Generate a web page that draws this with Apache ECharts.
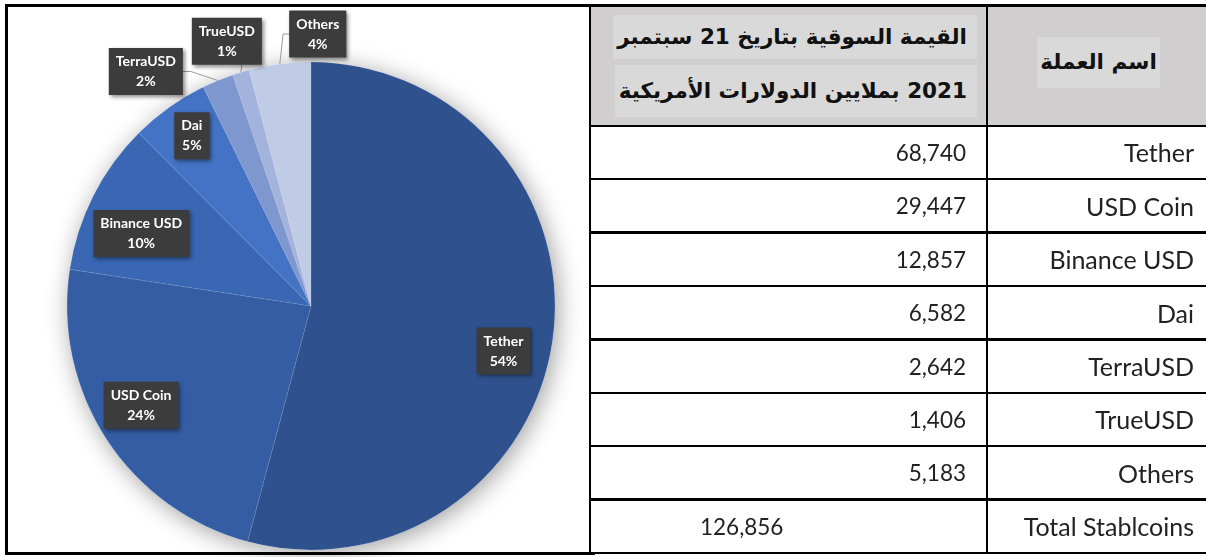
<!DOCTYPE html>
<html>
<head>
<meta charset="utf-8">
<script src="https://cdn.jsdelivr.net/npm/echarts@6/dist/echarts.min.js"></script>
<style>
  html, body { margin:0; padding:0; background:#fff; width:1206px; height:557px; overflow:hidden; }
  #frame { position:absolute; left:5px; top:4px; width:590px; height:551px; box-sizing:border-box;
           border:3px solid #000; border-right:none; }
  #chart { position:absolute; left:0; top:0; width:590px; height:557px; }
  #tbl { position:absolute; left:0; top:0; width:1206px; height:557px; }
  .cell { position:absolute; display:flex; align-items:center; box-sizing:border-box; white-space:nowrap;
          color:#222; font-family:Lato, "Open Sans", sans-serif; font-size:25px; }
  .num { font-size:22.5px; }
  .hline { position:absolute; height:2.6px; background:#000; }
  .vline { position:absolute; width:2.6px; background:#000; }
  .hd { background:#d0cece; font-family:"DejaVu Sans", sans-serif; font-weight:bold; color:#111; }
  .band { position:absolute; background:#d9d9d9; font-size:21.5px; display:flex; align-items:center;
          box-sizing:border-box; white-space:nowrap; }
</style>
</head>
<body>
<div id="frame"></div>
<div id="chart"></div>
<div id="tbl"></div>
<script>
// ---- data ----
const names  = ['Tether', 'USD Coin', 'Binance USD', 'Dai', 'TerraUSD', 'TrueUSD', 'Others'];
const values = [68740, 29447, 12857, 6582, 2642, 1406, 5183];
const totalName  = 'Total Stablcoins';
const totalValue = 126856;
const headerValueLines = ['القيمة السوقية بتاريخ 21 سبتمبر', '2021 بملايين الدولارات الأمريكية'];
const headerName = 'اسم العملة';

// ---- styling ----
const palette = ['#2f528f', '#345da4', '#3967b4', '#4472c4', '#7f97cf', '#a3b3dc', '#c0cbe6'];
const insideLabelCount = 4;
const insideLabelNudge = { 'Tether': [-4, 19], 'USD Coin': [-4, -9], 'Binance USD': [7, 17], 'Dai': [-4, -9] };
const smallLabelPlacement = {
  'TerraUSD': { dx: -72, dy: -9,  attach: 'right' },
  'TrueUSD':  { dx: -14, dy: -31, attach: 'bottom' },
  'Others':   { dx: 38,  dy: -30, attach: 'left' }
};
const boxStyle = {
  color: '#ffffff', fontFamily: 'Lato', fontWeight: 'bold', fontSize: 14, lineHeight: 20,
  backgroundColor: '#3c3c3c', padding: [4, 7, 3, 7],
  shadowBlur: 4, shadowColor: 'rgba(0,0,0,0.45)', shadowOffsetX: 2, shadowOffsetY: 2
};

const center = [311, 306];
const R = 244;

const pieData = names.map((n, i) => ({ name: n, value: values[i] }));

const chart = echarts.init(document.getElementById('chart'), null, { renderer: 'canvas' });
chart.setOption({
  animation: false,
  series: [
    { // soft shadow under the pie
      type: 'pie', silent: true, center: center, radius: R, startAngle: 90, z: 1,
      data: pieData, label: { show: false }, labelLine: { show: false },
      itemStyle: { color: '#ffffff', shadowBlur: 24, shadowColor: 'rgba(0,0,0,0.38)', shadowOffsetX: 3, shadowOffsetY: 4 },
      emphasis: { disabled: true }
    },
    { // main pie
      type: 'pie', silent: true, center: center, radius: R, startAngle: 90, z: 2,
      percentPrecision: 0,
      data: pieData.map((d, i) => ({
        name: d.name, value: d.value,
        itemStyle: { color: palette[i] },
        label: { show: i >= insideLabelCount },
        labelLine: { show: i >= insideLabelCount }
      })),
      itemStyle: { borderColor: 'rgba(255,255,255,0.14)', borderWidth: 0.6 },
      label: Object.assign({ position: 'outside', formatter: '{b}\n{d}%' }, boxStyle),
      labelLine: { length: 8, length2: 0, lineStyle: { color: '#9a9a9a', width: 1 } },
      labelLayout: function (p) {
        const cfg = smallLabelPlacement[names[p.dataIndex]];
        if (!cfg || !p.labelLinePoints) return {};
        const e = p.labelLinePoints[0];
        const w = p.labelRect.width, h = p.labelRect.height;
        const cx = e[0] + cfg.dx, cy = e[1] + cfg.dy;
        let pts;
        if (cfg.attach === 'right') {
          pts = [[e[0], e[1]], [cx + w / 2 + 8, cy], [cx + w / 2, cy]];
        } else if (cfg.attach === 'left') {
          pts = [[e[0], e[1]], [cx - w / 2 - 6, cy], [cx - w / 2, cy]];
        } else {
          pts = [[e[0], e[1]], [e[0] + 1, cy + h / 2], [e[0] + 1, cy + h / 2]];
        }
        return { x: cx, y: cy, align: 'center', verticalAlign: 'middle', labelLinePoints: pts };
      },
      emphasis: { disabled: true }
    },
    { // transparent ring that carries the inner labels
      type: 'pie', silent: true, center: center, radius: [R * 0.6, R], startAngle: 90, z: 3,
      percentPrecision: 0,
      data: pieData.map((d, i) => ({
        name: d.name, value: d.value,
        label: { show: i < insideLabelCount, offset: insideLabelNudge[d.name] || [0, 0] }
      })),
      itemStyle: { color: 'rgba(0,0,0,0)' },
      label: Object.assign({ position: 'inside', formatter: '{b}\n{d}%' }, boxStyle),
      labelLine: { show: false },
      emphasis: { disabled: true }
    }
  ]
});

// ---- table (layout) ----
const fmt = v => v.toLocaleString('en-US');
const tX0 = 590, tX1 = 987, tX2 = 1210;
const tY0 = 5.3, headerBottom = 125.8, rowH = 53.4;
const tbl = document.getElementById('tbl');
let html = '';
const rowCount = names.length + 1;
const tY1 = headerBottom + rowCount * rowH;
// header cells
const bandBoxes = [{ top: 15, h: 44 }, { top: 65, h: 52 }];
html += '<div class="cell hd" style="left:' + tX0 + 'px;top:' + tY0 + 'px;width:' + (tX1 - tX0) + 'px;height:' + (headerBottom - tY0) + 'px"></div>';
headerValueLines.forEach((t, k) => {
  html += '<div class="band hd" dir="rtl" style="background:#d9d9d9;right:' + (1206 - 977) + 'px;top:' + bandBoxes[k].top + 'px;height:' + bandBoxes[k].h + 'px;padding:0 10px 2px 4px">' + t + '</div>';
});
html += '<div class="cell hd" style="left:' + tX1 + 'px;top:' + tY0 + 'px;width:' + (1206 - tX1) + 'px;height:' + (headerBottom - tY0) + 'px"></div>';
html += '<div class="band hd" dir="rtl" style="background:#d9d9d9;left:1037px;top:37px;width:123px;height:51px;justify-content:center;padding-bottom:3px">' + headerName + '</div>';
// body rows
const bodyRows = names.map((n, i) => [fmt(values[i]), n, 'num']).concat([[fmt(totalValue), totalName, 'tot']]);
bodyRows.forEach((r, i) => {
  const top = headerBottom + i * rowH;
  const numStyle = r[2] === 'tot' ? 'justify-content:flex-start;padding-left:110px' : 'justify-content:flex-end;padding-right:21px';
  html += '<div class="cell num" style="left:' + tX0 + 'px;top:' + top + 'px;width:' + (tX1 - tX0) + 'px;height:' + rowH + 'px;' + numStyle + '">' + r[0] + '</div>';
  html += '<div class="cell" style="left:' + tX1 + 'px;top:' + top + 'px;width:' + (1206 - tX1) + 'px;height:' + rowH + 'px;justify-content:flex-end;padding-right:12px">' + r[1] + '</div>';
});
// grid lines
const hYs = [tY0, headerBottom];
for (let i = 1; i <= rowCount; i++) hYs.push(headerBottom + i * rowH);
hYs.forEach(y => { html += '<div class="hline" style="left:' + (tX0 - 1.3) + 'px;top:' + (y - 1.3) + 'px;width:' + (tX2 - tX0) + 'px"></div>'; });
[tX0, tX1].forEach(x => { html += '<div class="vline" style="left:' + (x - 1.3) + 'px;top:' + (tY0 - 1.3) + 'px;height:' + (tY1 - tY0 + 2.6) + 'px"></div>'; });
tbl.innerHTML = html;
</script>
</body>
</html>
